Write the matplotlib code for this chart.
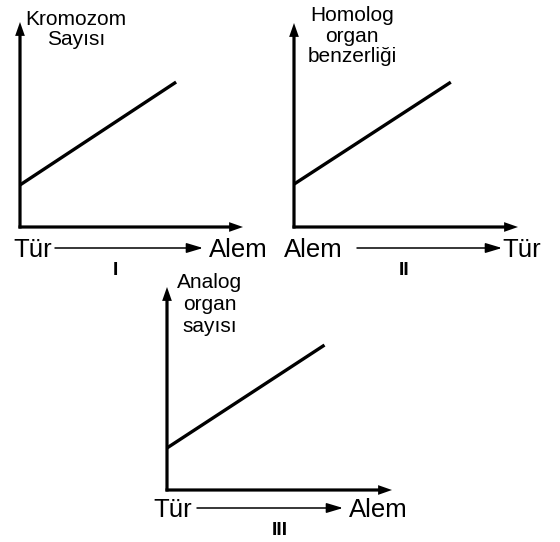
import matplotlib
matplotlib.use("Agg")
import matplotlib.pyplot as plt

# veri: her grafikte doğrunun başlangıç ve bitiş noktaları (eksen oranı)
x_vals = [0.0, 0.70]
line_I = [0.205, 0.707]
line_II = [0.21, 0.71]
line_III = [0.207, 0.714]

ylabel_I = ["Kromozom", "Sayısı"]
ylabel_II = ["Homolog", "organ", "benzerliği"]
ylabel_III = ["Analog", "organ", "sayısı"]

xlabels_I = ["Tür", "Alem"]
xlabels_II = ["Alem", "Tür"]
xlabels_III = ["Tür", "Alem"]
numerals = ["I", "II", "III"]

W, H = 560, 542
plt.rcParams['font.family'] = ['Liberation Sans', 'DejaVu Sans']
fig = plt.figure(figsize=(W / 100, H / 100), dpi=100)


def px(x, y):
    """piksel (sol-üst orijin) -> figür oranı"""
    return x / W, 1 - y / H


def panel(ox, oy, tx, ty, yvals, ylabel, lab_x, lab_y0, lab_dy):
    ax = fig.add_axes([ox / W, 1 - oy / H, (tx - ox) / W, (oy - ty) / H])
    ax.set_xlim(0, 1)
    ax.set_ylim(0, 1)
    ax.axis('off')
    ext_x = 1.5 / (tx - ox)
    ext_y = 1.5 / (oy - ty)
    arr = dict(width=2.3, headwidth=7, headlength=10, facecolor='black',
               edgecolor='black', linewidth=0)
    ax.annotate('', xy=(1, 0), xytext=(-ext_x, 0), xycoords='axes fraction',
                arrowprops=arr, annotation_clip=False)
    ax.annotate('', xy=(0, 1), xytext=(0, -ext_y), xycoords='axes fraction',
                arrowprops=arr, annotation_clip=False)
    ax.plot(x_vals, yvals, color='black', lw=2.4, solid_capstyle='butt',
            clip_on=False)
    for i, t in enumerate(ylabel):
        fig.text(*px(lab_x, lab_y0 + i * lab_dy), t, ha='center',
                 va='baseline', fontsize=15)
    return ax


def bottom(left_lab, right_lab, num, l_x, a0, a1, r_x, base_y, num_x, num_y):
    fig.text(*px(l_x, base_y), left_lab, ha='left', va='baseline', fontsize=18.5)
    fig.text(*px(r_x, base_y), right_lab, ha='left', va='baseline', fontsize=18.5)
    fig.text(*px(num_x, num_y), num, ha='center', va='baseline', fontsize=14,
             fontweight='bold')
    yy = base_y - 9
    fig.add_artist(matplotlib.patches.FancyArrowPatch(
        px(a0, yy), px(a1, yy), transform=fig.transFigure,
        arrowstyle='-|>,head_length=1.0,head_width=0.3', mutation_scale=10,
        lw=1.1, color='black', shrinkA=0, shrinkB=0))


panel(20, 227, 243, 22, line_I, ylabel_I, 76, 25, 20)
panel(294, 227, 518, 23, line_II, ylabel_II, 352, 21, 20.5)
panel(167, 490, 392, 287, line_III, ylabel_III, 210, 288, 22)

bottom(xlabels_I[0], xlabels_I[1], numerals[0], 13, 55, 203, 209, 257, 115, 275)
bottom(xlabels_II[0], xlabels_II[1], numerals[1], 284, 357, 502, 502, 257, 404, 275)
bottom(xlabels_III[0], xlabels_III[1], numerals[2], 153, 197, 343, 349, 517, 280, 535)

fig.savefig('out.png', dpi=100, facecolor='white')
